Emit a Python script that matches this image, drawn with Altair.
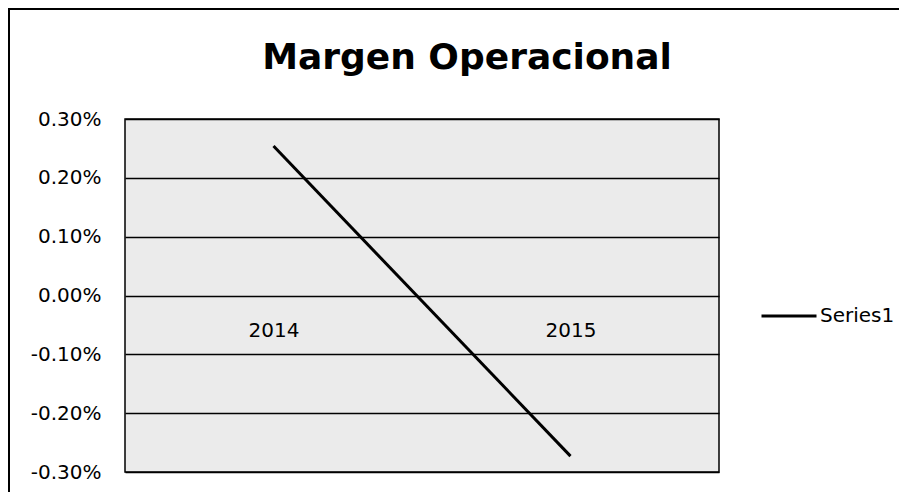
import altair as alt
import pandas as pd

years = ["2014", "2015"]
margin = [0.00254, -0.00273]
series = ["Series1", "Series1"]
y_ticks = [-0.003, -0.002, -0.001, 0.0, 0.001, 0.002, 0.003]

df = pd.DataFrame({"year": years, "margin": margin, "series": series})

W, H = 594, 353
FONT = "DejaVu Sans"

base = alt.Chart(df)

line = base.mark_line(strokeWidth=3, clip=False).encode(
    x=alt.X("year:N", sort=years,
            scale=alt.Scale(type="point", padding=0.5),
            axis=alt.Axis(title=None, orient="bottom", offset=-H / 2,
                          labelAngle=0, ticks=False, domain=False,
                          labelPadding=25, labelFontSize=20, labelFont=FONT,
                          labelColor="black", grid=False)),
    y=alt.Y("margin:Q",
            scale=alt.Scale(domain=[-0.003, 0.003], nice=False, zero=False),
            axis=alt.Axis(title=None, values=y_ticks, format=".2%",
                          labelExpr="replace(format(datum.value, '.2%'), '\u2212', '-')",
                          ticks=False, domain=False, labelPadding=24,
                          labelFontSize=20, labelFont=FONT, labelColor="black",
                          grid=True, gridColor="black", gridWidth=1.5,
                          gridOpacity=1)),
    color=alt.Color("series:N",
                    scale=alt.Scale(range=["black"]),
                    legend=alt.Legend(title=None, orient="none",
                                      legendX=635, legendY=168,
                                      symbolType="stroke", symbolSize=3025,
                                      symbolStrokeWidth=3, labelOffset=2,
                                      labelFontSize=20, labelFont=FONT,
                                      labelColor="black")),
)

frame_top = base.mark_rule(color="black", strokeWidth=2, clip=False).encode(
    x=alt.value(-117), x2=alt.value(W + 185), y=alt.value(-110)
)
frame_left = base.mark_rule(color="black", strokeWidth=2, clip=False).encode(
    x=alt.value(-116), y=alt.value(-111), y2=alt.value(H + 25)
)

chart = alt.layer(line, frame_top, frame_left).properties(
    width=W, height=H,
    background="white",
    autosize=alt.AutoSizeParams(type="none"),
    padding={"left": 117, "top": 111, "right": 180, "bottom": 20},
    title=alt.TitleParams("Margen Operacional", fontSize=36, font=FONT,
                          fontWeight="bold", color="black", anchor="middle",
                          baseline="alphabetic", dx=45, offset=-98),
).configure_view(
    fill="#ebebeb", stroke="black", strokeWidth=1.5
)

chart.save("out.html", embed_options={"renderer": "svg", "actions": False})
